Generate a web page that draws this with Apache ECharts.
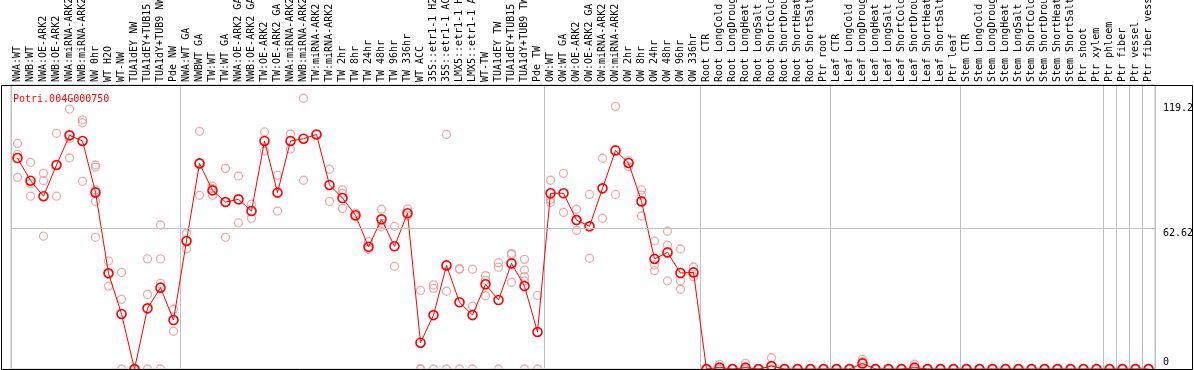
<!DOCTYPE html>
<html>
<head>
<meta charset="utf-8">
<script src="https://cdn.jsdelivr.net/npm/echarts@6/dist/echarts.min.js"></script>
<style>
html,body{margin:0;padding:0;background:#fff;}
#chart{width:1194px;height:370px;}
</style>
</head>
<body>
<div id="chart"></div>
<script>
const geneTitle = 'Potri.004G000750';

const categories = [
  'NWA:WT','NWB:WT','NWA:OE-ARK2','NWB:OE-ARK2','NWA:miRNA-ARK2','NWB:miRNA-ARK2','NW 0hr','WT H2O','WT-NW','TUA1dEY NW','TUA1dEY+TUB15 NW','TUA1dY+TUB9 NW','Pde NW',
  'NWA:WT GA','NWBWT GA','TW:WT','TW:WT GA','NWA:OE-ARK2 GA','NWB:OE-ARK2 GA','TW:OE-ARK2','TW:OE-ARK2 GA','NWA:miRNA-ARK2 GA','NWB:miRNA-ARK2 GA','TW:miRNA-ARK2','TW:miRNA-ARK2 GA',
  'TW 2hr','TW 8hr','TW 24hr','TW 48hr','TW 96hr','TW 336hr','WT ACC','35S::etr1-1 H2O','35S::etr1-1 ACC','LMX5::etr1-1 H2O','LMX5::etr1-1 ACC','WT-TW','TUA1dEY TW','TUA1dEY+TUB15 TW','TUA1dY+TUB9 TW','Pde TW',
  'OW:WT','OW:WT GA','OW:OE-ARK2','OW:OE-ARK2 GA','OW:miRNA-ARK2','OW:miRNA-ARK2 GA','OW 2hr','OW 8hr','OW 24hr','OW 48hr','OW 96hr','OW 336hr',
  'Root CTR','Root LongCold','Root LongDrought','Root LongHeat','Root LongSalt','Root ShortCold','Root ShortDrought','Root ShortHeat','Root ShortSalt','Ptr root',
  'Leaf CTR','Leaf LongCold','Leaf LongDrought','Leaf LongHeat','Leaf LongSalt','Leaf ShortCold','Leaf ShortDrought','Leaf ShortHeat','Leaf ShortSalt','Ptr leaf',
  'Stem CTR','Stem LongCold','Stem LongDrought','Stem LongHeat','Stem LongSalt','Stem ShortCold','Stem ShortDrought','Stem ShortHeat','Stem ShortSalt','Ptr shoot','Ptr xylem',
  'Ptr phloem','Ptr fiber','Ptr vessel','Ptr fiber vessel'
];

const meanValues = [
  93.9, 83.8, 76.9, 90.8, 104.0, 101.5, 78.6, 42.6, 24.5, 0, 27.0, 36.2, 21.8,
  57.0, 91.5, 79.5, 74.3, 75.5, 70.3, 101.5, 78.5, 101.5, 102.5, 104.4, 81.9, 76.1, 68.4, 54.4, 66.6, 54.6, 69.3, 11.7, 24.0, 46.1, 29.7, 24.0, 37.7, 30.7, 47.0, 36.9, 16.5,
  78.2, 78.2, 66.3, 63.5, 80.4, 97.3, 91.7, 74.6, 49.0, 51.9, 42.7, 43.0,
  0, 0.7, 0, 0.6, 0, 1.3, 0, 0, 0, 0,
  0, 0, 2.5, 0, 0, 0, 0.6, 0, 0, 0,
  0, 0, 0, 0, 0, 0, 0, 0, 0, 0, 0,
  0, 0, 0, 0
];

const replicateValues = [
  [100.4, 95.5, 85.3], [92.0, 82.5, 76.9], [87.1, 83.8, 59.1], [104.9, 90.7, 76.9], [115.7, 102.5, 93.9], [110.9, 109.6, 83.5],
  [90.8, 89.9, 79.8, 74.6, 58.6], [48.1, 42.6, 36.9], [43.0, 31.0, 0], [0, 0, 0], [49.0, 33.2, 0], [64.1, 49.0, 38.1, 0], [26.6, 16.8],
  [60.4, 57.0, 53.4], [105.8, 91.5, 77.3], [81.4, 80.4, 77.3], [89.3, 74.3, 58.6], [85.9, 65.0], [73.4, 67.1], [105.5, 97.0], [86.2, 70.3],
  [104.6, 97.9], [120.5, 84.0], [104.4], [88.9, 74.6], [79.7, 78.2, 71.5], [69.4, 67.8], [56.7, 53.3], [71.1, 64.8, 63.3], [63.5, 45.7],
  [71.3, 68.2], [35.0, 0, 0], [37.4, 35.9, 0], [104.4, 34.6, 0], [44.4, 44.7, 0], [44.4, 28.0, 0], [41.5, 39.6, 32.6], [47.3, 45.3, 0],
  [51.5, 50.9, 38.6], [48.8, 44.1, 41.1, 39.2, 0], [32.8, 0],
  [84.0, 75.5, 74.2], [87.1, 69.7], [71.1, 66.1, 61.7], [77.7, 49.3], [93.8, 67.1], [116.9, 77.7], [92.7, 90.0], [79.7, 77.4, 68.1],
  [57.0, 46.3, 43.8], [61.3, 55.1, 39.2], [53.4, 39.2, 35.5], [45.4, 41.1],
  [0, 0, 0], [2.1, 0, 0], [0, 0, 0], [2.5, 0, 0], [0, 0, 0], [5.0, 0, 0], [0, 0, 0], [0, 0, 0], [0, 0, 0], [0, 0, 0],
  [0, 0, 0], [0, 0, 0], [4.3, 3.3, 0], [0, 0, 0], [0, 0, 0], [0, 0, 0], [2.2, 0, 0], [0, 0, 0], [0, 0, 0], [0, 0, 0],
  [0, 0, 0], [0, 0, 0], [0, 0, 0], [0, 0, 0], [0, 0, 0], [0, 0, 0], [0, 0, 0], [0, 0, 0], [0, 0, 0], [0, 0, 0], [0, 0, 0],
  [0, 0, 0], [0, 0, 0], [0, 0, 0], [0, 0, 0]
];

const yTickValues = [0, 62.62, 119.2];
const yTickLabelStyles = ['b', 't', 'h'];
const gridLineValues = [62.62];
const groupStarts = [0, 13, 41, 53, 63, 73, 84, 85, 86, 87];

const FONT = 'DejaVu Sans Mono';
const chart = echarts.init(document.getElementById('chart'), null, {renderer: 'canvas', width: 1194, height: 370});

const replicatePoints = [];
replicateValues.forEach((arr, i) => arr.forEach(v => replicatePoints.push([i, v])));

chart.setOption({
  animation: false,
  backgroundColor: '#ffffff',
  title: {
    text: geneTitle, left: 8, top: 89,
    textStyle: {color: '#ff0000', fontFamily: FONT, fontSize: 10, fontWeight: 'normal'}
  },
  grid: {left: 11, right: 39, top: 85, height: 284, show: true, borderColor: '#c0c0c0', borderWidth: 1,
         containLabel: false, outerBoundsMode: 'none'},
  xAxis: {
    type: 'category', data: categories, position: 'top', boundaryGap: true,
    axisLine: {show: false}, axisTick: {show: false},
    axisLabel: {interval: 0, rotate: 90, margin: 3, color: '#000', fontFamily: FONT, fontSize: 10,
                align: 'left', verticalAlign: 'middle', hideOverlap: false},
    splitLine: {show: true, interval: (idx) => groupStarts.indexOf(idx) >= 0, lineStyle: {color: '#c0c0c0', width: 1}}
  },
  yAxis: {
    type: 'value', min: 0, max: 126.4, position: 'right',
    axisLine: {show: false}, axisTick: {show: false}, splitLine: {show: false},
    axisLabel: {
      margin: 8, color: '#000', fontFamily: FONT, fontSize: 10,
      customValues: yTickValues,
      formatter: (v) => {
        const k = yTickValues.indexOf(v);
        return '{' + (k >= 0 ? yTickLabelStyles[k] : 't') + '|' + v + '}';
      },
      rich: {
        h: {fontFamily: FONT, fontSize: 10, color: '#000', padding: [14, 0, 0, 0]},
        t: {fontFamily: FONT, fontSize: 10, color: '#000', padding: [10, 0, 0, 0]},
        b: {fontFamily: FONT, fontSize: 10, color: '#000', padding: [0, 0, 14, 0]}
      }
    }
  },
  series: [
    {
      type: 'scatter', name: 'replicates', data: replicatePoints, z: 2,
      symbol: 'circle', symbolSize: 8,
      itemStyle: {color: 'rgba(0,0,0,0)', borderColor: '#eb9797', borderWidth: 1.3},
      silent: true
    },
    {
      type: 'line', name: 'mean', data: meanValues, z: 3,
      symbol: 'circle', symbolSize: 9, showAllSymbol: true,
      lineStyle: {color: '#ff0000', width: 1},
      itemStyle: {color: 'rgba(0,0,0,0)', borderColor: '#ff0000', borderWidth: 1.6},
      silent: true,
      markLine: {
        silent: true, symbol: 'none', label: {show: false},
        lineStyle: {color: '#c0c0c0', width: 1, type: 'solid'},
        data: gridLineValues.map(v => ({yAxis: v}))
      }
    }
  ],
  graphic: [{
    type: 'rect', z: 100, silent: true,
    shape: {x: 1.5, y: 85.5, width: 1191, height: 284},
    style: {fill: null, stroke: '#000', lineWidth: 1}
  }]
});
</script>
</body>
</html>
